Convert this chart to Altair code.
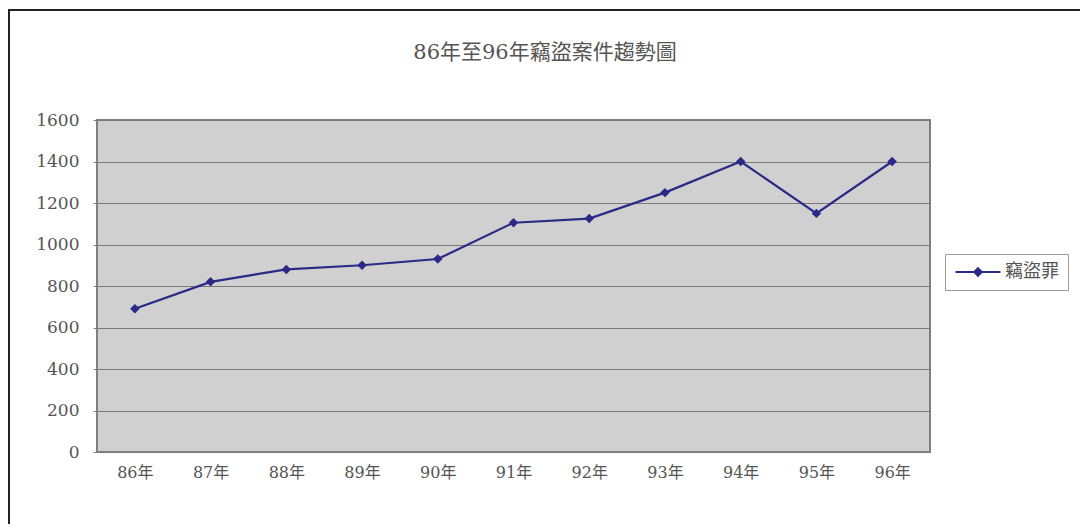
import altair as alt
import pandas as pd

years = ["86年", "87年", "88年", "89年", "90年", "91年", "92年", "93年", "94年", "95年", "96年"]
cases = [690, 820, 880, 900, 930, 1105, 1125, 1250, 1400, 1150, 1400]
series_name = "竊盜罪"
y_ticks = [0, 200, 400, 600, 800, 1000, 1200, 1400, 1600]
title_text = "86年至96年竊盜案件趨勢圖"

df = pd.DataFrame({"year": years, "cases": cases, "series": [series_name] * len(years)})

FONT = "DejaVu Serif, Noto Sans CJK TC, serif"
NAVY = "#2A2A86"
TXT = "#555555"

color = alt.Color(
    "series:N",
    scale=alt.Scale(range=[NAVY]),
    legend=alt.Legend(
        title=None,
        orient="none",
        legendX=848,
        legendY=134,
        symbolType="M-3,0L3,0M-0.5,0L0,-0.5L0.5,0L0,0.5Z",
        symbolSize=225,
        symbolOffset=15,
        symbolStrokeWidth=2,
        symbolFillColor=NAVY,
        symbolStrokeColor=NAVY,
        labelOffset=18,
        labelFont=FONT,
        labelFontSize=18,
        labelColor=TXT,
        strokeColor="#999999",
        padding=9,
        fillColor="white",
    ),
)

x = alt.X(
    "year:N",
    sort=years,
    scale=alt.Scale(type="point", padding=0.5),
    axis=alt.Axis(
        title=None,
        labelAngle=0,
        labelFont=FONT,
        labelFontSize=16,
        labelColor=TXT,
        labelPadding=12,
        ticks=False,
        domain=False,
        grid=False,
    ),
)
y = alt.Y(
    "cases:Q",
    scale=alt.Scale(domain=[0, 1600], nice=False),
    axis=alt.Axis(
        title=None,
        values=y_ticks,
        format="d",
        labelFont=FONT,
        labelFontSize=17,
        labelColor=TXT,
        labelPadding=14,
        tickSize=4,
        tickColor="#808080",
        domain=False,
        gridColor="#7A7A7A",
        gridWidth=1.2,
    ),
)

base = alt.Chart(df)
line = base.mark_line(strokeWidth=2.2).encode(x=x, y=y, color=color)
pts = base.mark_point(shape="diamond", filled=True, size=90, opacity=1).encode(x=x, y=y, color=color)

frame = alt.Chart(alt.Data(values=[{"a": 1}])).mark_rect(
    fillOpacity=0, stroke="#222222", strokeWidth=2
).encode(
    x=alt.value(-88), x2=alt.value(1200), y=alt.value(-110), y2=alt.value(700)
)

title = alt.Chart(alt.Data(values=[{"t": title_text}])).mark_text(
    font=FONT, fontSize=21, color=TXT, align="center", baseline="middle"
).encode(text="t:N", x=alt.value(448), y=alt.value(-67))

chart = alt.layer(frame, line, pts, title).properties(
    width=833,
    height=332,
    autosize=alt.AutoSizeParams(type="none"),
    padding={"left": 89, "top": 112, "right": 150, "bottom": 72},
    background="white",
).configure_view(
    fill="#D0D0D0", stroke="#808080", strokeWidth=2
)

chart.save("out.html", embed_options={"renderer": "svg", "actions": False})
